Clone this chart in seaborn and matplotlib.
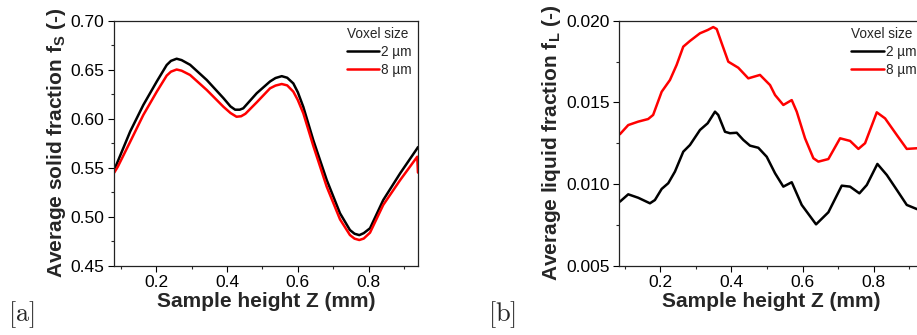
import numpy as np
import pandas as pd
import matplotlib
matplotlib.use("Agg")
import matplotlib.pyplot as plt
from matplotlib.ticker import MultipleLocator, FormatStrFormatter
import seaborn as sns

# ---------------- data ----------------
voxel_labels = ["2 µm", "8 µm"]
line_colors = ["black", "red"]

# Panel (a): average solid fraction
z_a_2um = [0.082, 0.088, 0.127, 0.164, 0.202, 0.230, 0.242, 0.258, 0.272, 0.296, 0.343,
           0.390, 0.410, 0.423, 0.436, 0.446, 0.484, 0.5216, 0.537, 0.5546, 0.570, 0.5873,
           0.600, 0.6155, 0.6437, 0.6815, 0.719, 0.747, 0.760, 0.7735, 0.786, 0.8037,
           0.841, 0.8888, 0.937, 0.939]
fs_2um = [0.549, 0.553, 0.587, 0.614, 0.638, 0.6548, 0.659, 0.6612, 0.6598, 0.655, 0.6395,
          0.621, 0.6125, 0.6092, 0.6092, 0.6106, 0.626, 0.638, 0.6415, 0.6434, 0.6418, 0.636,
          0.627, 0.612, 0.578, 0.5375, 0.5035, 0.4864, 0.4826, 0.4812, 0.4832, 0.4882,
          0.517, 0.5443, 0.5698, 0.571]
z_a_8um = [0.082, 0.092, 0.127, 0.164, 0.202, 0.230, 0.242, 0.258, 0.272, 0.296, 0.343,
           0.390, 0.410, 0.427, 0.440, 0.452, 0.484, 0.5216, 0.537, 0.5546, 0.570, 0.5873,
           0.600, 0.6155, 0.6437, 0.6815, 0.719, 0.747, 0.760, 0.7735, 0.786, 0.8037,
           0.841, 0.8888, 0.937, 0.939]
fs_8um = [0.545, 0.551, 0.5765, 0.6038, 0.6276, 0.644, 0.648, 0.6502, 0.649, 0.6446, 0.6293,
          0.6122, 0.6058, 0.602, 0.6025, 0.605, 0.6167, 0.631, 0.6338, 0.6354, 0.634, 0.6276,
          0.619, 0.6055, 0.5722, 0.5306, 0.4973, 0.4813, 0.4776, 0.4762, 0.4777, 0.4837,
          0.512, 0.5374, 0.5612, 0.545]

# Panel (b): average liquid fraction
z_b_2um = [0.0866, 0.11, 0.138, 0.171, 0.185, 0.204, 0.2225, 0.2413, 0.2647, 0.2835, 0.3117,
           0.3333, 0.3539, 0.363, 0.382, 0.396, 0.415, 0.4335, 0.4523, 0.4757, 0.4993,
           0.5227, 0.546, 0.5696, 0.5977, 0.638, 0.6726, 0.7102, 0.7336, 0.7598, 0.7806,
           0.8104, 0.837, 0.865, 0.893, 0.921, 0.94]
fl_2um = [0.00892, 0.00937, 0.00916, 0.00882, 0.00902, 0.00970, 0.01005, 0.01076, 0.01198,
          0.01239, 0.01331, 0.01372, 0.01443, 0.01423, 0.0132, 0.01311, 0.01314, 0.0127,
          0.01235, 0.01222, 0.01167, 0.01066, 0.00984, 0.01011, 0.00872, 0.00753, 0.00827,
          0.0099, 0.00984, 0.00943, 0.00994, 0.01123, 0.01055, 0.00964, 0.00872, 0.00847,
          0.0084]
z_b_8um = [0.0866, 0.11, 0.138, 0.166, 0.180, 0.204, 0.2273, 0.246, 0.2647, 0.2835, 0.3117,
           0.3333, 0.349, 0.3587, 0.3727, 0.3913, 0.4194, 0.4475, 0.4804, 0.5086, 0.5227,
           0.546, 0.5696, 0.5837, 0.607, 0.6304, 0.6445, 0.6726, 0.7055, 0.7336, 0.757,
           0.7758, 0.8087, 0.832, 0.865, 0.893, 0.921, 0.94]
fl_8um = [0.01305, 0.01361, 0.01382, 0.01398, 0.01423, 0.01565, 0.01637, 0.01729, 0.01841,
          0.01876, 0.01923, 0.01943, 0.01961, 0.01949, 0.01862, 0.01749, 0.01712, 0.01647,
          0.01668, 0.01606, 0.01545, 0.01484, 0.01514, 0.01443, 0.0128, 0.01158, 0.01137,
          0.01153, 0.0128, 0.01264, 0.01215, 0.0125, 0.01439, 0.01402, 0.013, 0.01215,
          0.01219, 0.0122]

x_label = "Sample height Z (mm)"
y_label_a = r"Average solid fraction f$_\mathbf{S}$ (-)"
y_label_b = r"Average liquid fraction f$_\mathbf{L}$ (-)"
legend_title = "Voxel size"

# ---------------- style ----------------
sns.set_style("ticks")
plt.rcParams["font.family"] = ["Liberation Sans", "DejaVu Sans"]
plt.rcParams["mathtext.fontset"] = "custom"
plt.rcParams["mathtext.bf"] = "Liberation Sans:bold"
plt.rcParams["mathtext.rm"] = "Liberation Sans"
plt.rcParams["mathtext.it"] = "Liberation Sans:italic"

df_a = pd.concat([
    pd.DataFrame({"z": z_a_2um, "f": fs_2um, "voxel": voxel_labels[0]}),
    pd.DataFrame({"z": z_a_8um, "f": fs_8um, "voxel": voxel_labels[1]}),
])
df_b = pd.concat([
    pd.DataFrame({"z": z_b_2um, "f": fl_2um, "voxel": voxel_labels[0]}),
    pd.DataFrame({"z": z_b_8um, "f": fl_8um, "voxel": voxel_labels[1]}),
])
palette = dict(zip(voxel_labels, line_colors))

fig = plt.figure(figsize=(9.17, 3.35), dpi=100)
ax_a = fig.add_axes([0.1246, 0.2069, 0.3312, 0.7313])
ax_b = fig.add_axes([0.6754, 0.2069, 0.3309, 0.7313])

panels = [
    (ax_a, df_a, y_label_a, (0.45, 0.70), 0.05, 0.025, "%.2f", "[a]", 0.009),
    (ax_b, df_b, y_label_b, (0.005, 0.020), 0.005, 0.0025, "%.3f", "[b]", 0.532),
]
xlims = [(0.082, 0.939), (0.085, 0.938)]

for (ax, df, ylab, ylim, ymaj, ymin, yfmt, tag, tagx), xl in zip(panels, xlims):
    sns.lineplot(data=df, x="z", y="f", hue="voxel", palette=palette,
                 hue_order=voxel_labels, estimator=None, sort=True,
                 linewidth=1.8, ax=ax)
    ax.set_xlim(*xl)
    ax.set_ylim(*ylim)
    ax.xaxis.set_major_locator(MultipleLocator(0.2))
    ax.xaxis.set_minor_locator(MultipleLocator(0.1))
    ax.xaxis.set_major_formatter(FormatStrFormatter("%.1f"))
    ax.yaxis.set_major_locator(MultipleLocator(ymaj))
    ax.yaxis.set_minor_locator(MultipleLocator(ymin))
    ax.yaxis.set_major_formatter(FormatStrFormatter(yfmt))
    ax.tick_params(which="major", direction="out", length=4, width=0.8,
                   labelsize=12.5, pad=3, top=False, right=False, colors="black")
    ax.tick_params(which="minor", direction="out", length=2.5, width=0.8,
                   top=False, right=False)
    for sp in ax.spines.values():
        sp.set_visible(True)
        sp.set_linewidth(0.9)
        sp.set_color("#222222")
    ax.set_xlabel(x_label, fontsize=15, fontweight="bold", labelpad=1)
    ax.set_ylabel(ylab, fontsize=15, fontweight="bold", labelpad=2)
    leg = ax.legend(title=legend_title, loc="upper right", frameon=False,
                    fontsize=9.8, title_fontsize=9.8, alignment="left",
                    handlelength=2.4, handletextpad=0.15, labelspacing=0.3,
                    borderaxespad=0.25, borderpad=0.2)
    for h in leg.get_lines():
        h.set_linewidth(1.8)
    fig.text(tagx, 0.015, r"$[\mathrm{" + tag[1] + r"}]$", fontsize=19,
             math_fontfamily="cm", ha="left", va="bottom")

fig.savefig("out.png", dpi=100)
